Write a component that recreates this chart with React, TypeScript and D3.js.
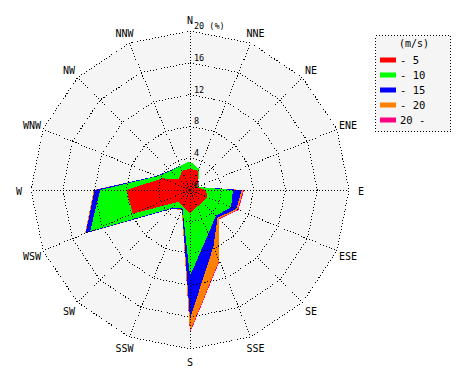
import React from 'react';
import * as d3 from 'd3';

const directions = ['N', 'NNE', 'NE', 'ENE', 'E', 'ESE', 'SE', 'SSE', 'S', 'SSW', 'SW', 'WSW', 'W', 'WNW', 'NW', 'NNW'];
const speedLabels = ['- 5', '- 10', '- 15', '- 20', '20 -'];
const speedColors = ['#ff0000', '#00ff00', '#0000ff', '#ff8000', '#ff0080'];
// frequency (%) per speed class, by direction
const upTo5 = [2.7, 2.6, 1.4, 0.9, 2.0, 2.4, 2.2, 2.3, 2.9, 2.3, 2.1, 7.8, 8.0, 3.8, 2.0, 2.6];
const upTo10 = [0.9, 0.3, 0.1, 0.1, 3.4, 3.2, 2.4, 3.7, 7.9, 0.2, 1.1, 5.8, 3.3, 0.7, 1.4, 0.7];
const upTo15 = [0.0, 0.0, 0.0, 0.0, 1.1, 0.7, 0.3, 1.7, 5.4, 0.1, 0.2, 0.6, 0.7, 0.1, 0.1, 0.0];
const upTo20 = [0.0, 0.0, 0.0, 0.0, 0.2, 0.2, 0.2, 1.9, 1.6, 0.1, 0.0, 0.1, 0.1, 0.0, 0.0, 0.0];
const over20 = [0.0, 0.0, 0.0, 0.0, 0.1, 0.1, 0.1, 0.1, 0.2, 0.0, 0.0, 0.0, 0.0, 0.0, 0.0, 0.0];
const ringTicks = [4, 8, 12, 16, 20];

const keys = ['c0', 'c1', 'c2', 'c3', 'c4'];

export default function App() {
  const cx = 190;
  const cy = 190;
  const rScale = d3.scaleLinear().domain([0, 20]).range([0, 159]);
  const angle = d3.scaleLinear().domain([0, directions.length]).range([0, 2 * Math.PI]);

  const table = directions.map((d, i) => ({
    dir: d,
    c0: upTo5[i],
    c1: upTo10[i],
    c2: upTo15[i],
    c3: upTo20[i],
    c4: over20[i],
  }));
  const series = d3.stack<any>().keys(keys)(table);

  const radial = d3
    .lineRadial<number>()
    .angle((_d, i) => angle(i))
    .radius((d) => rScale(d))
    .curve(d3.curveLinearClosed);

  const mono = '"DejaVu Sans Mono", "Liberation Mono", monospace';
  const outer = rScale(20);

  return (
    <svg
      width={470}
      height={380}
      style={{ position: 'absolute', left: 0, top: 0, background: '#ffffff' }}
      fontFamily={mono}
    >
      <g transform={`translate(${cx},${cy})`}>
        <path d={radial(directions.map(() => 20)) || ''} fill="#f5f5f5" stroke="none" />
        {series
          .slice()
          .reverse()
          .map((s) => {
            const idx = keys.indexOf(s.key);
            return (
              <path
                key={s.key}
                d={radial(s.map((p) => p[1])) || ''}
                fill={speedColors[idx]}
                stroke="none"
                shapeRendering="crispEdges"
              />
            );
          })}
        {ringTicks.map((t) => (
          <path
            key={t}
            d={radial(directions.map(() => t)) || ''}
            fill="none"
            stroke="#000"
            strokeWidth={1}
            strokeDasharray="1,2"
            shapeRendering="crispEdges"
          />
        ))}
        {directions.map((d, i) => {
          const a = angle(i);
          const x = outer * Math.sin(a);
          const y = -outer * Math.cos(a);
          return (
            <line
              key={d}
              x1={0}
              y1={0}
              x2={x}
              y2={y}
              stroke="#000"
              strokeWidth={1}
              strokeDasharray="1,2"
              shapeRendering="crispEdges"
            />
          );
        })}
        <circle r={1.5} fill="#000" />
        {[0, ...ringTicks].map((t) => (
          <text key={'l' + t} x={4} y={-rScale(t) - 2} fontSize={8.5} fill="#000">
            {t === 20 ? '20 (%)' : String(t)}
          </text>
        ))}
        {directions.map((d, i) => {
          const a = angle(i);
          const lr = 171;
          return (
            <text
              key={'d' + d}
              x={lr * Math.sin(a)}
              y={-lr * Math.cos(a) + 1}
              fontSize={10}
              textAnchor="middle"
              dominantBaseline="central"
              fill="#000"
            >
              {d}
            </text>
          );
        })}
      </g>
      <g>
        <rect x={375.5} y={35.5} width={75} height={96} fill="#f5f5f5" stroke="#000" strokeDasharray="1,2" shapeRendering="crispEdges" />
        <text x={414} y={47} fontSize={10} textAnchor="middle" fill="#000">
          (m/s)
        </text>
        {speedLabels.map((l, i) => (
          <g key={l} transform={`translate(0,${60 + i * 15})`}>
            <rect x={380} y={-2.5} width={16} height={5} fill={speedColors[i]} />
            <text x={400} y={0} fontSize={10.5} dominantBaseline="central" fill="#000">
              {l}
            </text>
          </g>
        ))}
      </g>
    </svg>
  );
}
